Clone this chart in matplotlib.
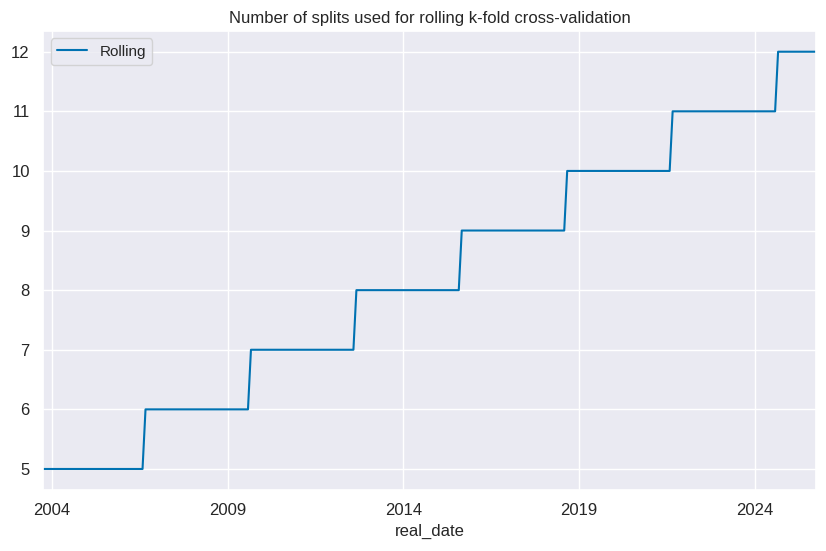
import matplotlib
matplotlib.use("Agg")
import matplotlib.pyplot as plt
import matplotlib.dates as mdates
import pandas as pd
import seaborn as sns

sns.set_theme(style="darkgrid", palette="colorblind")
plt.rcParams['font.family'] = ['Liberation Sans', 'DejaVu Sans']

# number of splits per level, first and last month-end date at each level
levels = [5, 6, 7, 8, 9, 10, 11, 12]
level_start = ["2003-09-30", "2006-08-31", "2009-08-31", "2012-08-31",
               "2015-08-31", "2018-08-31", "2021-08-31", "2024-08-31"]
level_end = ["2006-07-31", "2009-07-31", "2012-07-31", "2015-07-31",
             "2018-07-31", "2021-07-31", "2024-07-31", "2025-09-30"]
tick_years = [2004, 2009, 2014, 2019, 2024]

dates = []
vals = []
for s, e, v in zip(level_start, level_end, levels):
    dates += [pd.Timestamp(s), pd.Timestamp(e)]
    vals += [v, v]

fig, ax = plt.subplots(figsize=(8.26, 5.51), dpi=100)
ax.plot(dates, vals, label="Rolling", color="#0072B2", linewidth=1.5)
ax.set_xlim(pd.Timestamp(level_start[0]), pd.Timestamp(level_end[-1]))
ax.set_xticks([pd.Timestamp(f"{y}-01-01") for y in tick_years])
ax.xaxis.set_major_formatter(mdates.DateFormatter("%Y"))
ax.set_yticks(levels)
ax.tick_params(labelsize=12)
ax.set_xlabel("real_date", fontsize=12)
ax.set_title("Number of splits used for rolling k-fold cross-validation", fontsize=12)
ax.legend(loc="upper left", fontsize=11)

plt.subplots_adjust(left=0.052, right=0.988, top=0.944, bottom=0.111)
plt.savefig("out.png", dpi=100)
